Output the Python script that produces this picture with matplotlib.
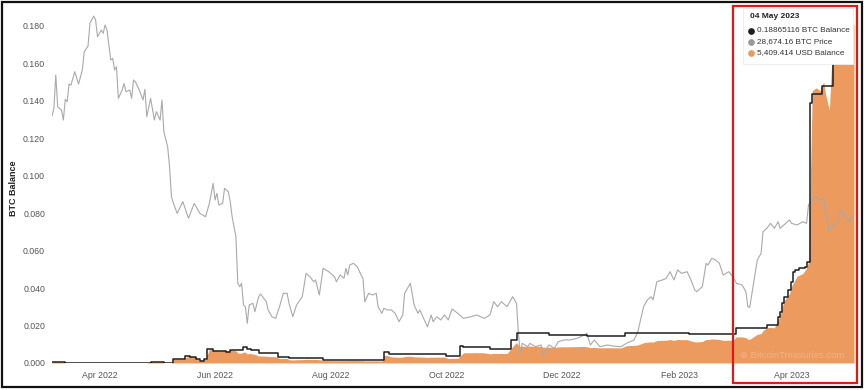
import numpy as np
import pandas as pd
import matplotlib
matplotlib.use("Agg")
import matplotlib.pyplot as plt
import matplotlib.dates as mdates
from matplotlib.patches import Rectangle
from matplotlib.lines import Line2D

plt.rcParams['font.family'] = ['Liberation Sans', 'DejaVu Sans']

# ---------------- data ----------------
price_dates = [
    "2022-03-07", "2022-03-08", "2022-03-09", "2022-03-10", "2022-03-12", "2022-03-13", "2022-03-14",
    "2022-03-15", "2022-03-16", "2022-03-17", "2022-03-19", "2022-03-21", "2022-03-23", "2022-03-24",
    "2022-03-26", "2022-03-27", "2022-03-29", "2022-03-30", "2022-03-31", "2022-04-02", "2022-04-03",
    "2022-04-04", "2022-04-05", "2022-04-07", "2022-04-08", "2022-04-09", "2022-04-10", "2022-04-11",
    "2022-04-13", "2022-04-14", "2022-04-15", "2022-04-17", "2022-04-18", "2022-04-19", "2022-04-20",
    "2022-04-22", "2022-04-24", "2022-04-25", "2022-04-26", "2022-04-28", "2022-04-30", "2022-05-01",
    "2022-05-03", "2022-05-04", "2022-05-05", "2022-05-07", "2022-05-08", "2022-05-09", "2022-05-10",
    "2022-05-12", "2022-05-15", "2022-05-18", "2022-05-21", "2022-05-24", "2022-05-27", "2022-05-29",
    "2022-05-31", "2022-06-01", "2022-06-02", "2022-06-03", "2022-06-05", "2022-06-06", "2022-06-08",
    "2022-06-09", "2022-06-10", "2022-06-12", "2022-06-13", "2022-06-14", "2022-06-15", "2022-06-16",
    "2022-06-17", "2022-06-18", "2022-06-19", "2022-06-21", "2022-06-22", "2022-06-24", "2022-06-25",
    "2022-06-28", "2022-06-29", "2022-07-01", "2022-07-03", "2022-07-05", "2022-07-07", "2022-07-09",
    "2022-07-10", "2022-07-12", "2022-07-14", "2022-07-17", "2022-07-19", "2022-07-21", "2022-07-23",
    "2022-07-24", "2022-07-26", "2022-07-28", "2022-07-31", "2022-08-03", "2022-08-04", "2022-08-06",
    "2022-08-08", "2022-08-09", "2022-08-10", "2022-08-11", "2022-08-13", "2022-08-15", "2022-08-17",
    "2022-08-18", "2022-08-19", "2022-08-21", "2022-08-23", "2022-08-25", "2022-08-26", "2022-08-28",
    "2022-08-29", "2022-08-31", "2022-09-02", "2022-09-04", "2022-09-06", "2022-09-08", "2022-09-09",
    "2022-09-12", "2022-09-14", "2022-09-16", "2022-09-17", "2022-09-19", "2022-09-21", "2022-09-23",
    "2022-09-24", "2022-09-26", "2022-09-28", "2022-09-30", "2022-10-02", "2022-10-04", "2022-10-07",
    "2022-10-10", "2022-10-14", "2022-10-17", "2022-10-21", "2022-10-24", "2022-10-26", "2022-10-28",
    "2022-10-30", "2022-11-02", "2022-11-05", "2022-11-07", "2022-11-08", "2022-11-09", "2022-11-10",
    "2022-11-13", "2022-11-14", "2022-11-17", "2022-11-20", "2022-11-21", "2022-11-24", "2022-11-27",
    "2022-11-29", "2022-12-02", "2022-12-05", "2022-12-09", "2022-12-13", "2022-12-14", "2022-12-16",
    "2022-12-18", "2022-12-21", "2022-12-25", "2022-12-28", "2023-01-01", "2023-01-04", "2023-01-08",
    "2023-01-10", "2023-01-13", "2023-01-15", "2023-01-17", "2023-01-18", "2023-01-20", "2023-01-23",
    "2023-01-25", "2023-01-27", "2023-01-29", "2023-01-31", "2023-02-02", "2023-02-05", "2023-02-07",
    "2023-02-09", "2023-02-10", "2023-02-13", "2023-02-15", "2023-02-16", "2023-02-18", "2023-02-20",
    "2023-02-22", "2023-02-24", "2023-02-27", "2023-03-01", "2023-03-03", "2023-03-06", "2023-03-08",
    "2023-03-09", "2023-03-10", "2023-03-12", "2023-03-14", "2023-03-16", "2023-03-17", "2023-03-19",
    "2023-03-21", "2023-03-23", "2023-03-25", "2023-03-26", "2023-03-28", "2023-03-31", "2023-04-01",
    "2023-04-04", "2023-04-07", "2023-04-09", "2023-04-10", "2023-04-12", "2023-04-14", "2023-04-16",
    "2023-04-18", "2023-04-19", "2023-04-21", "2023-04-23", "2023-04-25", "2023-04-27", "2023-04-29",
    "2023-05-01", "2023-05-03", "2023-05-04",
]
price_usd = [
    38050, 38760, 41830, 38910, 38600, 37690, 39590,
    39370, 41000, 40900, 42130, 41000, 42290, 43970,
    44490, 46580, 47250, 46890, 45350, 45970, 45660,
    46430, 45970, 43210, 43360, 42290, 42590, 39680,
    40450, 41060, 40290, 40450, 39680, 41370, 41210,
    40450, 39530, 40510, 37990, 39680, 37690, 38450,
    37690, 39530, 36610, 35230, 33390, 30630, 30050,
    29100, 30170, 28640, 30020, 29100, 28790, 30020,
    31860, 30330, 30940, 29870, 30020, 31400, 31090,
    30170, 28790, 26950, 22660, 22350, 22660, 20670,
    20510, 18980, 20670, 20820, 20050, 21430, 21680,
    20970, 20210, 19590, 19440, 20510, 21740, 21740,
    20820, 19590, 20670, 21430, 23580, 23270, 22810,
    22970, 21590, 24040, 23730, 23270, 22810, 23430,
    23120, 24040, 23430, 24350, 24500, 24190, 23430,
    23120, 20970, 21740, 21590, 21740, 20510, 19900,
    20360, 20210, 20210, 19900, 19130, 19750, 21740,
    22660, 20670, 19900, 20210, 19440, 18670, 19750,
    19130, 19590, 19290, 19750, 19290, 20300, 19900,
    19440, 19590, 19750, 19440, 19750, 20970, 20510,
    20970, 20510, 21430, 20820, 18060, 16220, 17140,
    16830, 17140, 16830, 16990, 16070, 16990, 16680,
    17290, 17450, 17450, 17600, 17910, 18060, 16990,
    17450, 16830, 16990, 16890, 16830, 17140, 17450,
    18210, 20510, 21130, 21430, 21130, 22810, 22970,
    23120, 23730, 22970, 23890, 23580, 23730, 22970,
    22050, 21890, 22350, 24500, 24350, 24960, 24810,
    24500, 23430, 23730, 23270, 22660, 22510, 21890,
    20510, 20450, 22660, 24810, 25420, 27410, 27720,
    28180, 27720, 28330, 27720, 28030, 28490, 28180,
    28030, 28330, 28180, 29870, 30330, 30630, 30330,
    30480, 29100, 27410, 28030, 28180, 29410, 29100,
    28330, 28790, 28674.16,
]

btc_dates = [
    "2022-03-07", "2022-03-14", "2022-04-28", "2022-05-05", "2022-05-10", "2022-05-16", "2022-05-19",
    "2022-05-22", "2022-05-24", "2022-05-26", "2022-05-28", "2022-05-31", "2022-06-07", "2022-06-09",
    "2022-06-13", "2022-06-16", "2022-06-18", "2022-06-20", "2022-06-24", "2022-07-04", "2022-07-10",
    "2022-07-28", "2022-08-29", "2022-09-01", "2022-10-01", "2022-10-08", "2022-10-10", "2022-10-24",
    "2022-11-04", "2022-11-07", "2022-11-24", "2022-12-14", "2023-01-03", "2023-01-10", "2023-02-06",
    "2023-03-03", "2023-03-17", "2023-03-19", "2023-03-25", "2023-03-26", "2023-03-27", "2023-03-28",
    "2023-03-30", "2023-04-01", "2023-04-02", "2023-04-03", "2023-04-05", "2023-04-08", "2023-04-09",
    "2023-04-11", "2023-04-12", "2023-04-17", "2023-04-23", "2023-05-04",
]
btc_balance = [
    0.0005, 0.0, 0.0005, 0.0, 0.0021, 0.0037, 0.0034,
    0.0021, 0.0011, 0.0020, 0.0073, 0.0065, 0.0059, 0.0072,
    0.0070, 0.0084, 0.0075, 0.0069, 0.0052, 0.0034, 0.0025,
    0.0016, 0.0059, 0.0048, 0.0037, 0.0090, 0.0084, 0.0074,
    0.0123, 0.0158, 0.0149, 0.0144, 0.0162, 0.0158, 0.0154,
    0.0185, 0.0189, 0.0203, 0.0247, 0.0274, 0.0318, 0.0354,
    0.0390, 0.0434, 0.0487, 0.0496, 0.0505, 0.0514, 0.0540,
    0.1385, 0.1438, 0.1477, 0.18865116, 0.18865116,
]

x_ticks = ["2022-04-01", "2022-06-01", "2022-08-01", "2022-10-01",
           "2022-12-01", "2023-02-01", "2023-04-01"]
y_ticks = [0.0, 0.02, 0.04, 0.06, 0.08, 0.10, 0.12, 0.14, 0.16, 0.18]

legend_title = "04 May 2023"
legend_labels = ["0.18865116 BTC Balance", "28,674.16 BTC Price", "5,409.414 USD Balance"]

# ---------------- derived ----------------
pd_price = pd.to_datetime(price_dates)
pd_btc = pd.to_datetime(btc_dates)
btc_arr = np.array(btc_balance)
idx = np.searchsorted(pd_btc.values, pd_price.values, side="right") - 1
usd_balance = btc_arr[idx] * np.array(price_usd)

# ---------------- figure ----------------
W, H = 865, 390
fig = plt.figure(figsize=(W / 100, H / 100), dpi=100)
fig.patch.set_facecolor("white")

def fx(x):
    return x / W

def fy(y):
    return 1 - y / H

rect = [fx(52), fy(363), (854 - 52) / W, (363 - 7) / H]
ax_usd = fig.add_axes(rect)
ax_px = fig.add_axes(rect, sharex=ax_usd)
ax = fig.add_axes(rect, sharex=ax_usd)

ORANGE = "#EC9A5E"
GRAY = "#a9a9a9"
BLACK = "#1e1e1e"

ax_usd.fill_between(pd_price, 0, usd_balance, color=ORANGE, lw=0)
ax_usd.set_ylim(0, 0.19 * 30000)

ax_px.plot(pd_price, price_usd, color=GRAY, lw=0.8)
ax_px.set_ylim(15330, 15330 + 172400 * 0.19)

ax.step(pd_btc, btc_arr, where="post", color=BLACK, lw=1.1)
ax.set_ylim(0, 0.19)
ax.set_xlim(pd.Timestamp("2022-03-07"), pd.Timestamp("2023-05-04"))

for a in (ax_usd, ax_px, ax):
    for s in a.spines.values():
        s.set_visible(False)
for a in (ax_usd, ax_px):
    a.tick_params(left=False, labelleft=False, bottom=False, labelbottom=False)
ax_px.patch.set_visible(False)
ax.patch.set_visible(False)

ax.set_yticks(y_ticks)
ax.set_yticklabels([f"{v:.3f}" for v in y_ticks])
ax.set_xticks(pd.to_datetime(x_ticks))
ax.xaxis.set_major_formatter(mdates.DateFormatter("%b %Y"))
ax.tick_params(axis="both", length=0, labelsize=6.3, colors="#555555")
ax.tick_params(axis="y", pad=5)
ax.tick_params(axis="x", pad=5.5)

fig.text(fx(14), fy(188), "BTC Balance", rotation=90, ha="center", va="center",
         fontsize=6.5, fontweight="bold", color="#222222")

# watermark
ax.text(0.988, 0.022, "\u2295 BitcoinTreasuries.com", transform=ax.transAxes,
        ha="right", va="center", fontsize=6.8, color="white", alpha=0.25)

# legend box
fig.add_artist(Rectangle((fx(743), fy(64)), (853 - 743) / W, (64 - 8) / H,
                         transform=fig.transFigure, facecolor="white",
                         edgecolor="#ececec", lw=0.6, zorder=5))
fig.text(fx(750), fy(17), legend_title, fontsize=6.0, fontweight="bold",
         color="#222222", va="center", zorder=6)
for yy, col, lab in zip([31, 42, 53], [BLACK, "#999999", ORANGE], legend_labels):
    fig.add_artist(Line2D([fx(751)], [fy(yy)], marker="o", markersize=3.8,
                          color=col, transform=fig.transFigure, zorder=6))
    fig.text(fx(757), fy(yy), lab, fontsize=5.9, color="#333333", va="center", zorder=6)

# red highlight rectangle
fig.add_artist(Rectangle((fx(733), fy(383)), (857 - 733) / W, (383 - 6) / H,
                         transform=fig.transFigure, fill=False,
                         edgecolor="#e01818", lw=1.6, zorder=7))
# outer frame
fig.add_artist(Rectangle((fx(1.5), fy(386.5)), (862 - 1.5) / W, (386.5 - 1.5) / H,
                         transform=fig.transFigure, fill=False,
                         edgecolor="#111111", lw=1.6, zorder=8))

fig.savefig("out.png", dpi=100)
